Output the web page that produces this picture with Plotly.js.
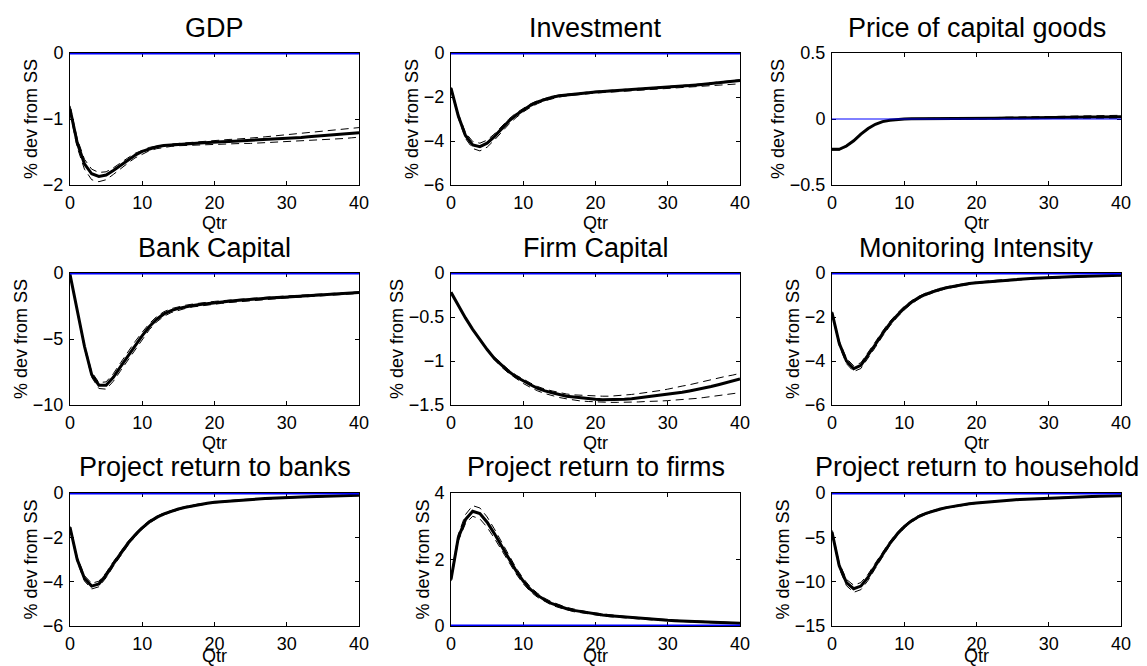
<!DOCTYPE html>
<html>
<head>
<meta charset="utf-8">
<script src="https://cdn.plot.ly/plotly-3.0.1.min.js"></script>
<style>html,body{margin:0;padding:0;background:#fff;}#chart{width:1147px;height:666px;}</style>
</head>
<body>
<div id="chart"></div>
<script>
// ---------- data ----------
const qtr = [0,1,2,3,4,5,6,7,8,9,10,11,12,13,14,15,16,17,18,19,20,21,22,23,24,25,26,27,28,29,30,31,32,33,34,35,36,37,38,39,40];
const zeroX = [0, 40];
const zeroY = [0, 0];

const panelTitles = ["GDP","Investment","Price of capital goods","Bank Capital","Firm Capital","Monitoring Intensity","Project return to banks","Project return to firms","Project return to household"];
const yTitle = "% dev from SS";
const xTitle = "Qtr";
const xTicks = [0,10,20,30,40];

const gdp   = [-0.85,-1.36,-1.68,-1.83,-1.87,-1.85,-1.78,-1.70,-1.62,-1.55,-1.49,-1.45,-1.42,-1.40,-1.39,-1.38,-1.375,-1.37,-1.365,-1.355,-1.35,-1.345,-1.34,-1.335,-1.33,-1.325,-1.32,-1.315,-1.31,-1.305,-1.30,-1.29,-1.28,-1.27,-1.26,-1.25,-1.245,-1.24,-1.23,-1.22,-1.21];
const gdpHi = [-0.80,-1.30,-1.61,-1.76,-1.81,-1.80,-1.74,-1.66,-1.59,-1.52,-1.47,-1.43,-1.41,-1.39,-1.38,-1.37,-1.36,-1.355,-1.35,-1.34,-1.33,-1.32,-1.31,-1.305,-1.30,-1.29,-1.28,-1.27,-1.26,-1.25,-1.24,-1.23,-1.22,-1.21,-1.20,-1.19,-1.18,-1.17,-1.16,-1.145,-1.13];
const gdpLo = [-0.90,-1.43,-1.76,-1.92,-1.95,-1.92,-1.84,-1.75,-1.67,-1.59,-1.53,-1.48,-1.45,-1.43,-1.415,-1.405,-1.40,-1.395,-1.39,-1.39,-1.385,-1.38,-1.38,-1.375,-1.37,-1.37,-1.365,-1.36,-1.355,-1.35,-1.345,-1.34,-1.335,-1.33,-1.325,-1.32,-1.31,-1.30,-1.295,-1.285,-1.275];

const inv   = [-1.60,-2.85,-3.75,-4.18,-4.26,-4.10,-3.80,-3.45,-3.10,-2.82,-2.58,-2.38,-2.22,-2.10,-2.01,-1.94,-1.90,-1.86,-1.83,-1.80,-1.77,-1.75,-1.73,-1.71,-1.69,-1.67,-1.65,-1.63,-1.61,-1.585,-1.56,-1.53,-1.50,-1.48,-1.45,-1.42,-1.39,-1.36,-1.33,-1.29,-1.25];
const invHi = [-1.55,-2.75,-3.62,-4.02,-4.10,-3.96,-3.68,-3.34,-3.00,-2.73,-2.50,-2.31,-2.16,-2.05,-1.97,-1.91,-1.87,-1.83,-1.80,-1.77,-1.74,-1.72,-1.70,-1.68,-1.66,-1.64,-1.62,-1.60,-1.58,-1.555,-1.53,-1.50,-1.47,-1.45,-1.42,-1.39,-1.36,-1.33,-1.30,-1.26,-1.22];
const invLo = [-1.65,-2.95,-3.88,-4.34,-4.45,-4.28,-3.96,-3.60,-3.24,-2.94,-2.68,-2.47,-2.30,-2.17,-2.07,-2.00,-1.95,-1.91,-1.88,-1.85,-1.82,-1.80,-1.78,-1.76,-1.74,-1.72,-1.70,-1.68,-1.66,-1.64,-1.62,-1.60,-1.58,-1.56,-1.54,-1.52,-1.50,-1.47,-1.45,-1.42,-1.40];

const pk   = [-0.23,-0.23,-0.205,-0.165,-0.115,-0.072,-0.040,-0.020,-0.009,-0.003,0.000,0.001,0.001,0.001,0.001,0.002,0.002,0.003,0.003,0.004,0.005,0.005,0.006,0.006,0.007,0.008,0.008,0.009,0.010,0.010,0.011,0.012,0.012,0.013,0.013,0.014,0.015,0.015,0.016,0.016,0.017];
const pkHi = [-0.225,-0.225,-0.200,-0.160,-0.111,-0.069,-0.038,-0.018,-0.007,-0.001,0.002,0.003,0.003,0.003,0.004,0.005,0.005,0.006,0.007,0.008,0.009,0.010,0.011,0.011,0.012,0.013,0.014,0.015,0.016,0.017,0.018,0.019,0.020,0.021,0.022,0.023,0.024,0.025,0.026,0.027,0.028];
const pkLo = [-0.235,-0.235,-0.210,-0.170,-0.119,-0.075,-0.042,-0.022,-0.011,-0.005,-0.002,-0.001,-0.001,-0.001,-0.001,-0.001,-0.001,0.000,0.000,0.000,0.001,0.001,0.001,0.001,0.002,0.002,0.002,0.003,0.003,0.003,0.004,0.004,0.004,0.005,0.005,0.005,0.006,0.006,0.006,0.006,0.007];

const bankCap   = [-0.10,-2.90,-5.55,-7.70,-8.50,-8.50,-7.90,-7.10,-6.30,-5.50,-4.75,-4.05,-3.50,-3.10,-2.85,-2.68,-2.56,-2.46,-2.38,-2.31,-2.25,-2.19,-2.14,-2.09,-2.04,-2.00,-1.96,-1.92,-1.88,-1.85,-1.82,-1.78,-1.75,-1.71,-1.68,-1.65,-1.61,-1.58,-1.54,-1.51,-1.48];
const bankCapHi = [-0.08,-2.80,-5.40,-7.50,-8.30,-8.25,-7.62,-6.80,-5.98,-5.20,-4.48,-3.82,-3.30,-2.93,-2.70,-2.55,-2.44,-2.35,-2.27,-2.21,-2.15,-2.10,-2.05,-2.00,-1.96,-1.92,-1.88,-1.84,-1.80,-1.77,-1.74,-1.71,-1.68,-1.64,-1.61,-1.58,-1.55,-1.52,-1.49,-1.46,-1.43];
const bankCapLo = [-0.12,-3.00,-5.70,-7.90,-8.75,-8.80,-8.20,-7.40,-6.60,-5.80,-5.02,-4.28,-3.70,-3.28,-3.00,-2.82,-2.68,-2.57,-2.49,-2.42,-2.36,-2.30,-2.24,-2.19,-2.14,-2.09,-2.05,-2.00,-1.96,-1.93,-1.89,-1.86,-1.82,-1.79,-1.75,-1.72,-1.68,-1.65,-1.62,-1.58,-1.55];

const firmCap   = [-0.22,-0.37,-0.51,-0.64,-0.76,-0.87,-0.97,-1.05,-1.12,-1.18,-1.23,-1.27,-1.31,-1.34,-1.36,-1.38,-1.40,-1.41,-1.42,-1.43,-1.435,-1.44,-1.44,-1.44,-1.435,-1.43,-1.42,-1.41,-1.40,-1.39,-1.38,-1.37,-1.355,-1.34,-1.325,-1.31,-1.29,-1.27,-1.25,-1.23,-1.205];
const firmCapHi = [-0.215,-0.365,-0.505,-0.635,-0.75,-0.86,-0.955,-1.03,-1.10,-1.16,-1.21,-1.25,-1.29,-1.32,-1.34,-1.36,-1.375,-1.385,-1.39,-1.395,-1.40,-1.40,-1.40,-1.395,-1.39,-1.38,-1.37,-1.36,-1.35,-1.335,-1.32,-1.30,-1.285,-1.27,-1.25,-1.23,-1.21,-1.195,-1.175,-1.16,-1.14];
const firmCapLo = [-0.225,-0.375,-0.515,-0.645,-0.77,-0.88,-0.985,-1.07,-1.14,-1.20,-1.255,-1.30,-1.34,-1.37,-1.395,-1.415,-1.43,-1.445,-1.455,-1.46,-1.465,-1.47,-1.47,-1.47,-1.47,-1.47,-1.465,-1.46,-1.46,-1.455,-1.45,-1.445,-1.44,-1.43,-1.425,-1.415,-1.405,-1.395,-1.385,-1.37,-1.36];

const monitor   = [-1.80,-3.20,-4.00,-4.35,-4.20,-3.75,-3.25,-2.75,-2.30,-1.93,-1.60,-1.33,-1.12,-0.96,-0.84,-0.74,-0.66,-0.59,-0.53,-0.48,-0.44,-0.41,-0.38,-0.35,-0.32,-0.30,-0.28,-0.26,-0.24,-0.22,-0.21,-0.19,-0.18,-0.17,-0.16,-0.15,-0.14,-0.13,-0.12,-0.11,-0.10];
const monitorHi = [-1.75,-3.10,-3.88,-4.22,-4.08,-3.63,-3.13,-2.64,-2.20,-1.84,-1.52,-1.26,-1.06,-0.91,-0.79,-0.70,-0.62,-0.55,-0.50,-0.45,-0.41,-0.38,-0.35,-0.32,-0.30,-0.28,-0.26,-0.24,-0.22,-0.205,-0.19,-0.175,-0.165,-0.155,-0.145,-0.135,-0.125,-0.115,-0.105,-0.095,-0.085];
const monitorLo = [-1.85,-3.30,-4.12,-4.48,-4.34,-3.88,-3.38,-2.87,-2.41,-2.02,-1.68,-1.40,-1.18,-1.02,-0.89,-0.79,-0.70,-0.63,-0.57,-0.52,-0.47,-0.44,-0.41,-0.38,-0.35,-0.33,-0.31,-0.29,-0.27,-0.25,-0.23,-0.215,-0.20,-0.19,-0.18,-0.17,-0.16,-0.15,-0.14,-0.13,-0.12];

const retBank   = [-1.55,-3.00,-3.85,-4.20,-4.10,-3.70,-3.20,-2.72,-2.28,-1.90,-1.57,-1.30,-1.10,-0.94,-0.82,-0.72,-0.64,-0.57,-0.51,-0.46,-0.42,-0.39,-0.36,-0.33,-0.31,-0.29,-0.27,-0.25,-0.23,-0.21,-0.20,-0.19,-0.18,-0.17,-0.16,-0.15,-0.14,-0.13,-0.12,-0.11,-0.10];
const retBankHi = [-1.50,-2.90,-3.73,-4.07,-3.98,-3.59,-3.10,-2.63,-2.20,-1.83,-1.51,-1.24,-1.05,-0.90,-0.78,-0.69,-0.61,-0.54,-0.48,-0.44,-0.40,-0.37,-0.34,-0.31,-0.29,-0.27,-0.25,-0.23,-0.21,-0.195,-0.185,-0.175,-0.165,-0.155,-0.145,-0.135,-0.125,-0.115,-0.105,-0.095,-0.085];
const retBankLo = [-1.60,-3.10,-3.97,-4.33,-4.23,-3.82,-3.31,-2.82,-2.37,-1.97,-1.63,-1.36,-1.15,-0.99,-0.86,-0.76,-0.67,-0.60,-0.54,-0.49,-0.45,-0.41,-0.38,-0.35,-0.33,-0.31,-0.29,-0.27,-0.25,-0.23,-0.215,-0.205,-0.195,-0.185,-0.175,-0.165,-0.155,-0.145,-0.135,-0.125,-0.115];

const retFirm   = [1.40,2.65,3.20,3.45,3.38,3.12,2.78,2.40,2.02,1.66,1.35,1.10,0.92,0.78,0.67,0.59,0.52,0.47,0.43,0.39,0.36,0.33,0.31,0.29,0.27,0.25,0.23,0.22,0.20,0.19,0.17,0.16,0.15,0.14,0.13,0.12,0.11,0.10,0.10,0.09,0.08];
const retFirmHi = [1.45,2.75,3.35,3.62,3.55,3.28,2.92,2.52,2.12,1.75,1.43,1.17,0.98,0.83,0.72,0.63,0.56,0.51,0.46,0.42,0.39,0.36,0.33,0.31,0.29,0.27,0.25,0.235,0.22,0.205,0.19,0.175,0.165,0.155,0.145,0.135,0.125,0.115,0.11,0.10,0.095];
const retFirmLo = [1.35,2.55,3.08,3.30,3.22,2.97,2.64,2.28,1.92,1.57,1.27,1.03,0.86,0.73,0.62,0.55,0.48,0.43,0.40,0.36,0.33,0.30,0.28,0.26,0.25,0.23,0.21,0.20,0.18,0.17,0.155,0.145,0.135,0.125,0.115,0.105,0.095,0.09,0.085,0.075,0.07];

const retHh   = [-4.40,-8.20,-10.10,-10.80,-10.50,-9.50,-8.20,-6.90,-5.70,-4.65,-3.80,-3.15,-2.65,-2.30,-2.02,-1.80,-1.62,-1.47,-1.34,-1.22,-1.12,-1.04,-0.97,-0.90,-0.84,-0.78,-0.73,-0.69,-0.65,-0.61,-0.57,-0.54,-0.51,-0.48,-0.45,-0.42,-0.40,-0.38,-0.36,-0.34,-0.32];
const retHhHi = [-4.20,-7.90,-9.75,-10.40,-10.10,-9.15,-7.90,-6.65,-5.48,-4.46,-3.64,-3.01,-2.53,-2.20,-1.93,-1.72,-1.55,-1.40,-1.28,-1.16,-1.07,-0.99,-0.92,-0.86,-0.80,-0.74,-0.69,-0.65,-0.61,-0.57,-0.54,-0.51,-0.48,-0.45,-0.42,-0.39,-0.37,-0.35,-0.33,-0.31,-0.29];
const retHhLo = [-4.60,-8.50,-10.45,-11.20,-10.90,-9.85,-8.50,-7.15,-5.92,-4.84,-3.96,-3.29,-2.77,-2.40,-2.11,-1.88,-1.69,-1.54,-1.40,-1.28,-1.17,-1.09,-1.02,-0.94,-0.88,-0.82,-0.77,-0.73,-0.69,-0.65,-0.60,-0.57,-0.54,-0.51,-0.48,-0.45,-0.43,-0.41,-0.39,-0.37,-0.35];

const yRanges = [[-2,0],[-6,0],[-0.5,0.5],[-10,0],[-1.5,0],[-6,0],[-6,0],[0,4],[-15,0]];
const yTickVals = [[-2,-1,0],[-6,-4,-2,0],[-0.5,0,0.5],[-10,-5,0],[-1.5,-1,-0.5,0],[-6,-4,-2,0],[-6,-4,-2,0],[0,2,4],[-15,-10,-5,0]];

// ---------- layout ----------
const W = 1147, H = 666;
const colPx = [[70,359],[451,740],[832,1121]];
const rowPx = [[53,185],[273,405],[493,626]];
const titleCenterY = [28, 247.5, 467];
const FONT = "Liberation Sans, Arial, Helvetica, sans-serif";

const series = [
  [gdp,gdpHi,gdpLo],[inv,invHi,invLo],[pk,pkHi,pkLo],
  [bankCap,bankCapHi,bankCapLo],[firmCap,firmCapHi,firmCapLo],[monitor,monitorHi,monitorLo],
  [retBank,retBankHi,retBankLo],[retFirm,retFirmHi,retFirmLo],[retHh,retHhHi,retHhLo]
];

const traces = [];
const layout = {
  width: W, height: H, autosize: false,
  margin: {l:0, r:0, t:0, b:0},
  paper_bgcolor: "#fff", plot_bgcolor: "#fff",
  showlegend: false,
  font: {family: FONT, color: "#000"},
  annotations: []
};

for (let i = 0; i < 9; i++) {
  const r = Math.floor(i / 3), c = i % 3;
  const n = i + 1;
  const xa = "x" + (n === 1 ? "" : n), ya = "y" + (n === 1 ? "" : n);
  const xKey = "xaxis" + (n === 1 ? "" : n), yKey = "yaxis" + (n === 1 ? "" : n);
  const [m, hi, lo] = series[i];
  const dash = {color: "#000", width: 1, dash: "8px,5px"};
  // the zero line sits on the frame in most panels; make it wide enough to show there
  const zeroOnEdge = yRanges[i][0] === 0 || yRanges[i][1] === 0;
  traces.push({x: qtr, y: hi, xaxis: xa, yaxis: ya, mode: "lines", line: dash, hoverinfo: "skip"});
  traces.push({x: qtr, y: lo, xaxis: xa, yaxis: ya, mode: "lines", line: dash, hoverinfo: "skip"});
  traces.push({x: qtr, y: m, xaxis: xa, yaxis: ya, mode: "lines", line: {color: "#000", width: 3}, hoverinfo: "skip"});
  traces.push({x: zeroX, y: zeroY, xaxis: xa, yaxis: ya, mode: "lines", line: {color: "#0000ff", width: zeroOnEdge ? 3 : 1}, hoverinfo: "skip"});

  const common = {
    showgrid: false, zeroline: false, showline: true, linecolor: "#000", linewidth: 1,
    mirror: "ticks", ticks: "inside", ticklen: 4, tickwidth: 1, tickcolor: "#000",
    tickfont: {family: FONT, size: 18, color: "#000"}, layer: "below traces", fixedrange: true
  };
  layout[xKey] = Object.assign({}, common, {
    domain: [colPx[c][0] / W, colPx[c][1] / W], anchor: ya,
    range: [0, 40], tickmode: "array", tickvals: xTicks, ticktext: xTicks.map(String),
    ticklabelstandoff: 1,
    title: {text: xTitle, font: {family: FONT, size: 18, color: "#000"}, standoff: 1}
  });
  layout[yKey] = Object.assign({}, common, {
    domain: [1 - rowPx[r][1] / H, 1 - rowPx[r][0] / H], anchor: xa,
    range: yRanges[i], tickmode: "array", tickvals: yTickVals[i],
    ticklabelstandoff: 2,
    title: {text: yTitle, font: {family: FONT, size: 18, color: "#000"}, standoff: 0}
  });
  layout.annotations.push({
    text: panelTitles[i], xref: "paper", yref: "paper",
    x: (colPx[c][0] + colPx[c][1]) / 2 / W, y: 1 - titleCenterY[r] / H,
    xanchor: "center", yanchor: "middle", showarrow: false,
    font: {family: FONT, size: 27, color: "#000"}
  });
}

Plotly.newPlot("chart", traces, layout, {staticPlot: true, displayModeBar: false});
</script>
</body>
</html>
